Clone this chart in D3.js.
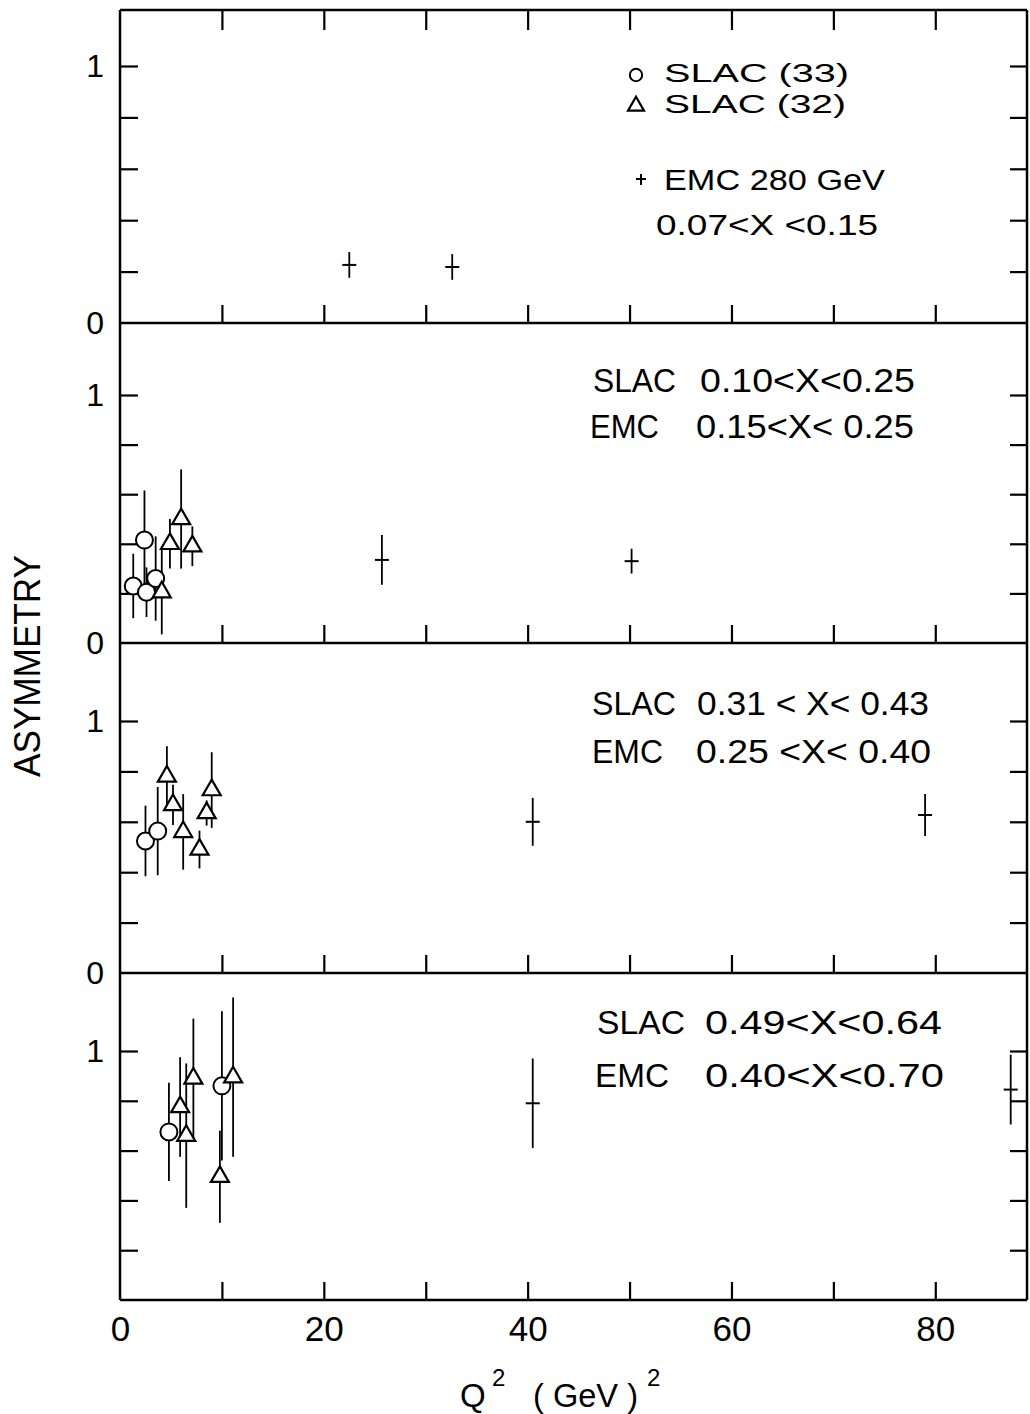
<!DOCTYPE html>
<html>
<head>
<meta charset="utf-8">
<script src="https://cdn.jsdelivr.net/npm/d3@7"></script>
<style>
body{margin:0;background:#fff;}
svg text{font-family:"Liberation Sans",Arial,sans-serif;fill:#000;}
</style>
</head>
<body>
<div id="chart"></div>
<script>
// values, each point is [Q2, asymmetry, error]
// panel 1 : 0.07<x<0.15 (only EMC)
var emc_1 = [[22.5,0.226,0.05],[32.6,0.218,0.05]];
// panel 2
var slac33_2 = [[1.3,0.23,0.13],[2.4,0.415,0.20],[2.6,0.205,0.10],[3.5,0.26,0.17]];
var slac32_2 = [[4.1,0.205,0.17],[4.9,0.40,0.10],[6.0,0.50,0.20],[7.1,0.39,0.08]];
var emc_2 = [[25.7,0.335,0.10],[50.2,0.33,0.05]];
// panel 3
var slac33_3 = [[2.5,0.524,0.14],[3.7,0.563,0.175]];
var slac32_3 = [[4.6,0.78,0.12],[5.2,0.667,0.08],[6.2,0.56,0.15],[7.8,0.49,0.075],[8.5,0.635,0.05],[9.0,0.726,0.15]];
var emc_3 = [[40.5,0.60,0.095],[79.0,0.627,0.083]];
// panel 4
var slac33_4 = [[4.8,0.675,0.197],[10.0,0.86,0.30]];
var slac32_4 = [[5.9,0.775,0.20],[6.5,0.66,0.29],[7.2,0.89,0.24],[9.8,0.495,0.185],[11.1,0.895,0.32]];
var emc_4 = [[40.5,0.79,0.18],[87.4,0.845,0.14]];

var xLabels = [0,20,40,60,80];
var xMinorTicks = [10,20,30,40,50,60,70,80];
var yMinorTicks = [0.2,0.4,0.6,0.8,1.0];
var slacText = [null,"0.10<X<0.25","0.31 < X< 0.43","0.49<X<0.64"];
var emcText = [null,"0.15<X< 0.25","0.25 <X< 0.40","0.40<X<0.70"];

var circles = [[],slac33_2,slac33_3,slac33_4];
var triangles = [[],slac32_2,slac32_3,slac32_4];
var crosses = [emc_1,emc_2,emc_3,emc_4];

// layout of the four stacked panels (pixels)
var panels = [
  {top:10, zero:323, one:66, t1:392, t2:438},
  {top:323, zero:643, one:395, t1:392, t2:438},
  {top:643, zero:973, one:721, t1:715, t2:763},
  {top:973, zero:1300, one:1051, t1:1034, t2:1087}
];
var textPos = [
  null,
  {s:[593,83], r1:[700,215], e:[590,69], r2:[696,218]},
  {s:[592,84], r1:[697,232], e:[592,71], r2:[696,235]},
  {s:[597,88], r1:[705,237], e:[595,74], r2:[705,239]}
];

var W = 1030, H = 1414;
var svg = d3.select("#chart").append("svg").attr("width",W).attr("height",H);
var x = d3.scaleLinear().domain([0,89]).range([120,1027]);
var X0 = x(0), X1 = x(89);

var tri = d3.symbol().type(d3.symbolTriangle).size(140);
var circ = d3.symbol().type(d3.symbolCircle).size(227);

function noDomain(g){ g.select(".domain").remove(); g.selectAll(".tick line").attr("stroke","#000").attr("stroke-width",2.2); }

panels.forEach(function(L,i){
  var y = d3.scaleLinear().domain([0,1]).range([L.zero,L.one]);
  var g = svg.append("g");

  g.append("g").attr("transform","translate("+X0+",0)")
    .call(d3.axisLeft(y).tickValues(yMinorTicks).tickSize(-18).tickSizeOuter(0).tickFormat(""))
    .call(noDomain);
  g.append("g").attr("transform","translate("+X1+",0)")
    .call(d3.axisRight(y).tickValues(yMinorTicks).tickSize(-17).tickSizeOuter(0).tickFormat(""))
    .call(noDomain);
  g.append("g").attr("transform","translate(0,"+L.zero+")")
    .call(d3.axisBottom(x).tickValues(xMinorTicks).tickSize(-18).tickSizeOuter(0).tickFormat(""))
    .call(noDomain);
  if(i==0){
    g.append("g").attr("transform","translate(0,"+L.top+")")
      .call(d3.axisTop(x).tickValues(xMinorTicks).tickSize(-20).tickSizeOuter(0).tickFormat(""))
      .call(noDomain);
  }

  // 0 and 1 labels on the left
  var yl = g.append("g").attr("transform","translate("+X0+",0)")
    .call(d3.axisLeft(y).tickValues(i<3?[0,1]:[1]).tickSize(0).tickPadding(16).tickFormat(d3.format("d")));
  yl.select(".domain").remove();
  yl.selectAll("text").attr("font-size",32).attr("font-family","Liberation Sans");

  // frame line under the panel
  g.append("line").attr("x1",X0).attr("x2",X1).attr("y1",L.zero).attr("y2",L.zero)
    .attr("stroke","#000").attr("stroke-width",2.5);

  // error bars
  var all = circles[i].concat(triangles[i]).concat(crosses[i]);
  g.selectAll(".err").data(all).enter().append("line")
    .attr("x1",function(d){return x(d[0]);}).attr("x2",function(d){return x(d[0]);})
    .attr("y1",function(d){return y(d[1]-d[2]);}).attr("y2",function(d){return y(d[1]+d[2]);})
    .attr("stroke","#000").attr("stroke-width",1.8);
  g.selectAll(".cbar").data(crosses[i]).enter().append("line")
    .attr("x1",function(d){return x(d[0])-7;}).attr("x2",function(d){return x(d[0])+7;})
    .attr("y1",function(d){return y(d[1]);}).attr("y2",function(d){return y(d[1]);})
    .attr("stroke","#000").attr("stroke-width",2);

  g.selectAll(".circ").data(circles[i]).enter().append("path")
    .attr("d",circ)
    .attr("transform",function(d){return "translate("+x(d[0])+","+y(d[1])+")";})
    .attr("fill","#fff").attr("stroke","#000").attr("stroke-width",2);
  g.selectAll(".tri").data(triangles[i]).enter().append("path")
    .attr("d",tri)
    .attr("transform",function(d){return "translate("+x(d[0])+","+y(d[1])+")";})
    .attr("fill","#fff").attr("stroke","#000").attr("stroke-width",2.2);

  // bin labels
  if(i>0){
    var t = textPos[i];
    var fs = 34;
    [["SLAC",t.s,L.t1],[slacText[i],t.r1,L.t1],["EMC",t.e,L.t2],[emcText[i],t.r2,L.t2]].forEach(function(a){
      g.append("text").attr("x",a[1][0]).attr("y",a[2]).attr("font-size",fs)
        .attr("textLength",a[1][1]).attr("lengthAdjust","spacingAndGlyphs").text(a[0]);
    });
  }
});

// outer frame
svg.append("line").attr("x1",X0).attr("x2",X0).attr("y1",10).attr("y2",1300).attr("stroke","#000").attr("stroke-width",2.5);
svg.append("line").attr("x1",X1).attr("x2",X1).attr("y1",10).attr("y2",1300).attr("stroke","#000").attr("stroke-width",2.5);
svg.append("line").attr("x1",X0).attr("x2",X1).attr("y1",10).attr("y2",10).attr("stroke","#000").attr("stroke-width",2.5);

// legend in the top panel
var lg = svg.append("g");
lg.append("path").attr("d",d3.symbol().type(d3.symbolCircle).size(120)).attr("transform","translate(636,75)")
  .attr("fill","#fff").attr("stroke","#000").attr("stroke-width",2);
lg.append("path").attr("d",d3.symbol().type(d3.symbolTriangle).size(110)).attr("transform","translate(636,106)")
  .attr("fill","#fff").attr("stroke","#000").attr("stroke-width",2.2);
lg.append("line").attr("x1",641).attr("x2",641).attr("y1",174).attr("y2",185).attr("stroke","#000").attr("stroke-width",2);
lg.append("line").attr("x1",636).attr("x2",646).attr("y1",179).attr("y2",179).attr("stroke","#000").attr("stroke-width",2);
[["SLAC (33)",664,82,185,26],["SLAC (32)",664,113,182,26],["EMC 280 GeV",664,190,221,29],["0.07<X <0.15",656,235,222,29]].forEach(function(a){
  lg.append("text").attr("x",a[1]).attr("y",a[2]).attr("font-size",a[4])
    .attr("textLength",a[3]).attr("lengthAdjust","spacingAndGlyphs").text(a[0]);
});

// bottom axis labels
var xb = svg.append("g").attr("transform","translate(0,1300)")
  .call(d3.axisBottom(x).tickValues(xLabels).tickSize(0).tickPadding(16).tickFormat(d3.format("d")));
xb.select(".domain").remove();
xb.selectAll("text").attr("font-size",35).attr("font-family","Liberation Sans");

// axis titles
svg.append("text").attr("transform","translate(40,666) rotate(-90)").attr("text-anchor","middle")
  .attr("font-size",37).attr("textLength",222).attr("lengthAdjust","spacingAndGlyphs").text("ASYMMETRY");
var xt = svg.append("g");
xt.append("text").attr("x",460).attr("y",1407).attr("font-size",33).text("Q");
xt.append("text").attr("x",492).attr("y",1386).attr("font-size",24).text("2");
xt.append("text").attr("x",533).attr("y",1407).attr("font-size",33).style("white-space","pre")
  .attr("textLength",105).attr("lengthAdjust","spacingAndGlyphs").text("( GeV )");
xt.append("text").attr("x",647).attr("y",1386).attr("font-size",24).text("2");
</script>
</body>
</html>
